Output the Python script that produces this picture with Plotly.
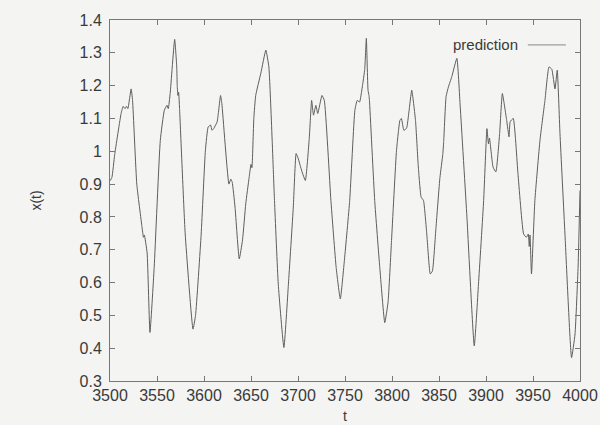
import plotly.graph_objects as go

t_vals = [3500, 3502, 3505, 3511.8, 3514, 3516, 3517.5, 3519, 3522.5, 3524, 3528.5, 3534, 3535.6, 3536.5,
          3539.5, 3542.5, 3547, 3553.5, 3557.8, 3560.6, 3562, 3564, 3568.8, 3571, 3571.5, 3572.3, 3573, 3574,
          3580, 3588.3, 3591, 3597, 3601.5, 3604.4, 3607, 3608.5, 3610.5, 3614, 3617.6, 3619, 3626.5, 3628.5,
          3630, 3633, 3637.5, 3641, 3644.4, 3648, 3650, 3651, 3653, 3655, 3660.4, 3665.8, 3669, 3675, 3679,
          3685, 3689.8, 3695, 3698, 3700, 3704, 3707.8, 3712, 3714.5, 3716.5, 3719, 3721, 3725.5, 3728, 3735,
          3740.6, 3745, 3749.5, 3755, 3760.5, 3763, 3765.5, 3768.4, 3771, 3772.7, 3774.5, 3775.5, 3776, 3781.6,
          3787, 3792.3, 3795.8, 3799.5, 3804.8, 3808.4, 3810, 3812.6, 3815.5, 3818, 3821, 3825, 3828, 3831,
          3833.5, 3837, 3840.7, 3843, 3846.8, 3851, 3854, 3855, 3857.5, 3860, 3863.6, 3869, 3872.6, 3879.7,
          3887.5, 3892, 3897.5, 3901, 3902.6, 3903.7, 3907.5, 3910.5, 3914.5, 3917.4, 3922, 3924.5, 3925.7,
          3929, 3934, 3940, 3943, 3945, 3946, 3946.8, 3948.4, 3952, 3957.4, 3962.7, 3967, 3970, 3973.4, 3975.8,
          3978.7, 3984, 3991, 3994.7, 3998, 4000]
x_vals = [0.91, 0.92, 0.99, 1.115, 1.137, 1.13, 1.137, 1.13, 1.19, 1.155, 0.90, 0.77, 0.738, 0.745,
          0.69, 0.448, 0.646, 1.033, 1.125, 1.14, 1.13, 1.176, 1.341, 1.257, 1.20, 1.17, 1.18, 1.13,
          0.748, 0.458, 0.50, 0.748, 1.003, 1.074, 1.08, 1.064, 1.07, 1.09, 1.17, 1.145, 0.90, 0.915,
          0.906, 0.83, 0.672, 0.73, 0.84, 0.92, 0.96, 0.95, 1.10, 1.17, 1.237, 1.308, 1.257, 0.85, 0.595,
          0.402, 0.595, 0.83, 0.993, 0.98, 0.94, 0.911, 1.04, 1.155, 1.11, 1.14, 1.115, 1.17, 1.155, 0.85,
          0.646, 0.55, 0.672, 0.85, 1.125, 1.155, 1.15, 1.196, 1.25, 1.344, 1.186, 1.17, 1.155, 0.85,
          0.646, 0.478, 0.54, 0.728, 1.003, 1.094, 1.10, 1.064, 1.07, 1.12, 1.186, 1.094, 0.952, 0.86,
          0.85, 0.748, 0.626, 0.635, 0.768, 0.92, 0.99, 1.03, 1.166, 1.196, 1.227, 1.283, 1.135, 0.80,
          0.407, 0.595, 0.85, 1.069, 1.023, 1.04, 0.952, 0.937, 1.054, 1.176, 1.094, 1.044, 1.09,
          1.10, 0.932, 0.748, 0.738, 0.748, 0.71, 0.745, 0.626, 0.85, 1.033, 1.155, 1.257, 1.25, 1.19, 1.247,
          1.054, 0.748, 0.371, 0.443, 0.65, 0.88]

x_ticks = [3500, 3550, 3600, 3650, 3700, 3750, 3800, 3850, 3900, 3950, 4000]
y_ticks = [0.3, 0.4, 0.5, 0.6, 0.7, 0.8, 0.9, 1.0, 1.1, 1.2, 1.3, 1.4]
y_tick_text = ["0.3", "0.4", "0.5", "0.6", "0.7", "0.8", "0.9", "1", "1.1", "1.2", "1.3", "1.4"]

bg = "#f4f4f2"
txt = "#3a3a3a"
axc = "#777777"
fnt = "Liberation Sans, Arial"

fig = go.Figure()
fig.add_trace(go.Scatter(x=t_vals, y=x_vals, mode="lines", name="prediction",
                         line=dict(color="#5e5e5e", width=1, shape="spline", smoothing=0.4),
                         showlegend=False))

fig.add_annotation(xref="paper", yref="paper", x=0.872, y=0.931, text="prediction",
                   showarrow=False, xanchor="right", yanchor="middle",
                   font=dict(family=fnt, size=15, color=txt))
fig.add_shape(type="line", xref="paper", yref="paper", x0=0.889, x1=0.970, y0=0.931, y1=0.931,
              line=dict(color="#8a8a8a", width=1))
fig.add_annotation(xref="paper", yref="paper", x=0.5, y=-0.098, text="t",
                   showarrow=False, xanchor="center", yanchor="middle",
                   font=dict(family=fnt, size=14, color=txt))

fig.update_layout(
    width=600, height=425,
    margin=dict(l=110, r=20, t=20, b=44, autoexpand=False),
    paper_bgcolor=bg, plot_bgcolor=bg,
    font=dict(family=fnt, size=16, color=txt),
    xaxis=dict(range=[3500, 4000], tickvals=x_ticks, showgrid=False, zeroline=False,
               showline=True, linecolor=axc, linewidth=1, mirror="ticks",
               ticks="inside", ticklen=5, tickcolor=axc),
    yaxis=dict(range=[0.3, 1.4], tickvals=y_ticks, ticktext=y_tick_text, showgrid=False, zeroline=False,
               showline=True, linecolor=axc, linewidth=1, mirror="ticks",
               ticks="inside", ticklen=5, tickcolor=axc, ticklabelstandoff=4,
               title=dict(text="x(t)", standoff=34, font=dict(size=14))),
)

fig.write_html("out.html")
